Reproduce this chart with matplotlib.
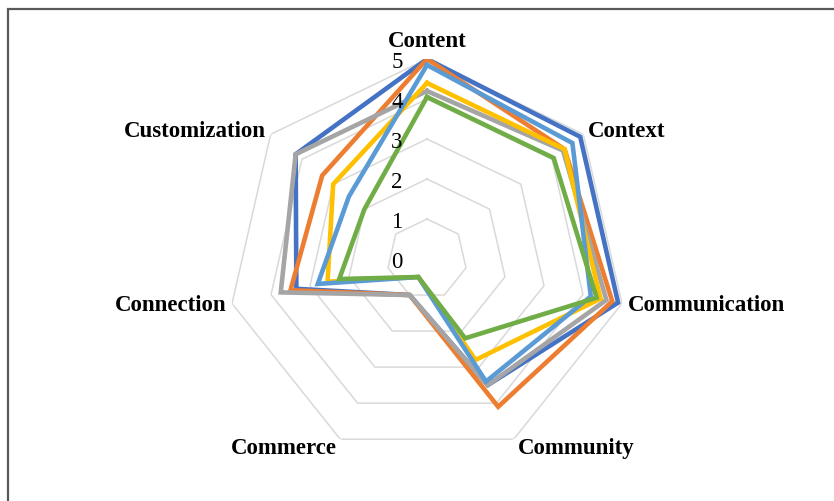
import numpy as np
import matplotlib
matplotlib.use("Agg")
import matplotlib.pyplot as plt
from matplotlib.patches import Rectangle

categories = ["Content", "Context", "Communication", "Community",
              "Commerce", "Connection", "Customization"]

s1 = [5.0, 4.9, 4.9, 3.5, 1.0, 3.35, 4.2]   # dark blue
s2 = [5.0, 4.4, 4.75, 4.1, 1.0, 3.5, 3.35]  # orange
s3 = [4.2, 4.35, 4.6, 3.5, 1.0, 3.75, 4.2]  # gray
s4 = [4.4, 4.4, 4.45, 2.8, 0.5, 2.55, 3.0]  # yellow
s5 = [4.85, 4.65, 4.2, 3.4, 0.5, 2.8, 2.5]  # light blue
s6 = [4.05, 4.05, 4.35, 2.2, 0.5, 2.25, 2.0]  # green

series = [s1, s2, s3, s4, s5, s6]
colors = ["#4472C4", "#ED7D31", "#A5A5A5", "#FFC000", "#5B9BD5", "#70AD47"]
ring_values = [0, 1, 2, 3, 4, 5]

W, H = 834, 502
fig = plt.figure(figsize=(W / 100, H / 100), dpi=100)
fig.patch.set_facecolor("white")

# border of the chart area
fig.add_artist(Rectangle((8 / W, -0.1), 2.0, (H - 10) / H + 0.1,
                         transform=fig.transFigure, fill=False,
                         edgecolor="#595959", linewidth=1.6))

cx, cy, R = 427, 260, 200
ax = fig.add_axes([(cx - R) / W, (H - cy - R) / H, 2 * R / W, 2 * R / H],
                  projection="polar")
ax.set_theta_zero_location("N")
ax.set_theta_direction(-1)
ax.set_ylim(0, 5)
ax.grid(False)
ax.spines["polar"].set_visible(False)
ax.set_xticks([])
ax.set_yticks([])
ax.patch.set_alpha(0)

n = len(categories)
theta = np.arange(n) * 2 * np.pi / n
theta_c = np.append(theta, theta[0])

# heptagon rings
for v in ring_values[1:]:
    ax.plot(theta_c, [v] * (n + 1), color="#D9D9D9", lw=1.1, zorder=1)

# data series
for vals, col in zip(series, colors):
    ax.plot(theta_c, list(vals) + [vals[0]], color=col, lw=3.3,
            solid_joinstyle="miter", zorder=3)

# radial tick labels
for v in ring_values:
    ax.annotate(str(v), xy=(0, v), xytext=(-30, -3), textcoords="offset pixels",
                ha="center", va="center", fontsize=16.5,
                family="Liberation Serif", zorder=5)

# category labels
font = dict(fontsize=16.5, family="Liberation Serif", fontweight="bold")
for i, (t, lab) in enumerate(zip(theta, categories)):
    if i == 0:
        ax.text(t, 5.45, lab, ha="center", va="center", **font)
    elif i in (3, 4):
        ax.text(t, 5.22, lab, ha=("left" if i == 3 else "right"),
                va="center", **font)
    else:
        ha = "left" if i <= 3 else "right"
        ax.text(t, 5.15, lab, ha=ha, va="center", **font)

fig.savefig("out.png", dpi=100, facecolor="white")
